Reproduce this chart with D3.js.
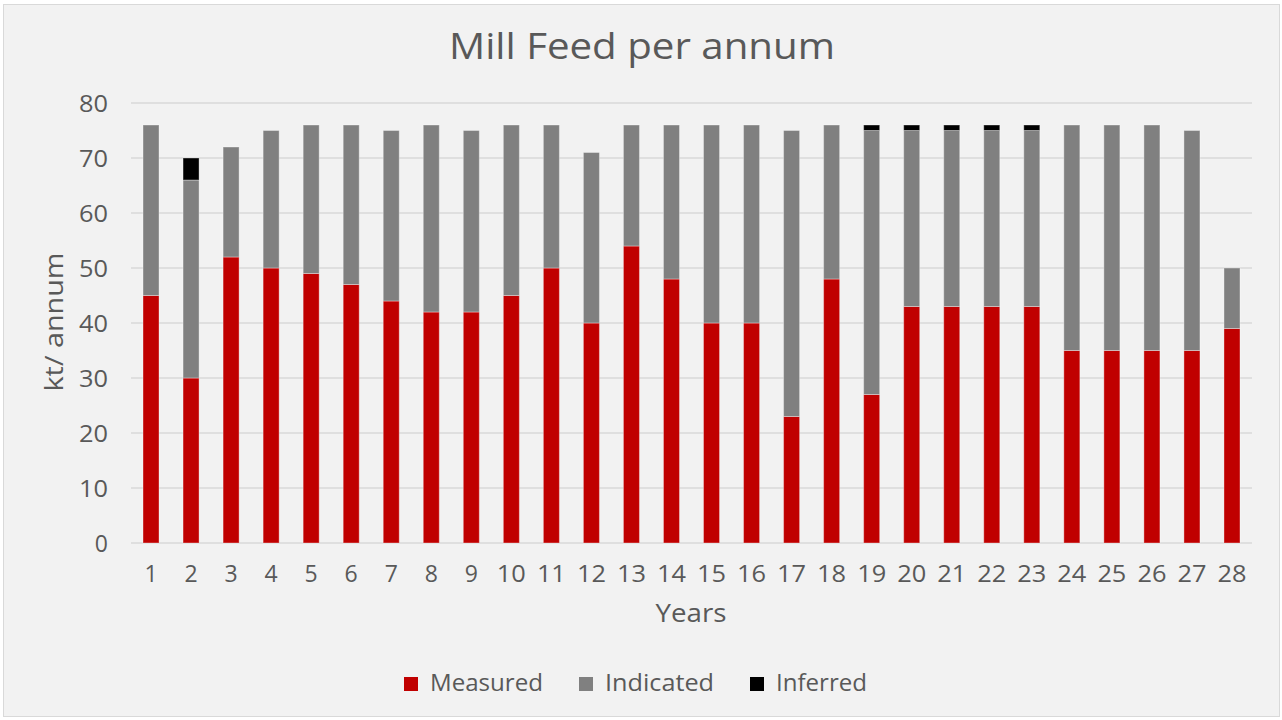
<!DOCTYPE html>
<html><head><meta charset="utf-8">
<script src="https://cdn.jsdelivr.net/npm/d3@7"></script>
<style>
html,body{margin:0;padding:0;background:#ffffff;}
svg{display:block;}
text{font-family:"Open Sans","Noto Sans",sans-serif;fill:#595959;}
</style></head>
<body>
<svg id="chart" width="1282" height="720"></svg>
<script>
const years = [1,2,3,4,5,6,7,8,9,10,11,12,13,14,15,16,17,18,19,20,21,22,23,24,25,26,27,28];
const measured  = [45,30,52,50,49,47,44,42,42,45,50,40,54,48,40,40,23,48,27,43,43,43,43,35,35,35,35,39];
const indicated = [31,36,20,25,27,29,31,34,33,31,26,31,22,28,36,36,52,28,48,32,32,32,32,41,41,41,40,11];
const inferred  = [0,4,0,0,0,0,0,0,0,0,0,0,0,0,0,0,0,0,1,1,1,1,1,0,0,0,0,0];
const seriesNames = ["Measured","Indicated","Inferred"];
const seriesColors = ["#c00000","#808080","#000000"];
const yTicks = [0,10,20,30,40,50,60,70,80];

const svg = d3.select("#chart");
svg.append("rect").attr("x",0).attr("y",0).attr("width",1282).attr("height",720).attr("fill","#ffffff");
svg.append("rect").attr("x",3.5).attr("y",4.5).attr("width",1276).attr("height",712)
  .attr("fill","#f2f2f2").attr("stroke","#d9d9d9").attr("stroke-width",1);

const x = d3.scaleBand().domain(years).range([131,1252]).paddingInner(0.6).paddingOuter(0.3);
const y = d3.scaleLinear().domain([0,80]).range([543,103]);

// gridlines
svg.append("g").selectAll("line").data(yTicks).join("line")
  .attr("x1",131).attr("x2",1252)
  .attr("y1",d=>y(d)).attr("y2",d=>y(d))
  .attr("stroke","#d9d9d9").attr("stroke-width",1.5);

// stacked data
const rows = years.map((yr,i)=>({year:yr, Measured:measured[i], Indicated:indicated[i], Inferred:inferred[i]}));
const stack = d3.stack().keys(seriesNames)(rows);
const color = d3.scaleOrdinal().domain(seriesNames).range(seriesColors);

svg.append("g").selectAll("g").data(stack).join("g")
  .attr("fill",d=>color(d.key))
  .selectAll("rect").data(d=>d.filter(p=>p[1]-p[0]>0)).join("rect")
  .attr("x",d=>x(d.data.year))
  .attr("width",x.bandwidth())
  .attr("y",d=>y(d[1]))
  .attr("height",d=>y(d[0])-y(d[1]))
  .attr("stroke","rgba(255,255,255,0.35)").attr("stroke-width",1);

// y axis labels
const yAxis = d3.axisLeft(y).tickValues(yTicks).tickSize(0).tickPadding(0);
const gy = svg.append("g").attr("transform","translate(108,0)").call(yAxis);
gy.select(".domain").remove();
gy.selectAll("text").attr("font-size",23).attr("fill","#595959")
  .style("font-family","'Open Sans',sans-serif").attr("dy","0.36em")
  .each(function(d){ if(String(d).length>1) d3.select(this).attr("textLength",29).attr("lengthAdjust","spacingAndGlyphs"); });

// x axis labels
const xAxis = d3.axisBottom(x).tickSize(0).tickPadding(0);
const gx = svg.append("g").attr("transform","translate(0,582)").call(xAxis);
gx.select(".domain").remove();
gx.selectAll("text").attr("font-size",23).attr("fill","#595959")
  .style("font-family","'Open Sans',sans-serif").attr("dy",0)
  .each(function(d){ if(String(d).length>1) d3.select(this).attr("textLength",29).attr("lengthAdjust","spacingAndGlyphs"); });

// title
svg.append("text").attr("x",642).attr("y",59).attr("text-anchor","middle")
  .attr("font-size",36).attr("textLength",386).attr("lengthAdjust","spacingAndGlyphs")
  .text("Mill Feed per annum");

// axis titles
svg.append("text").attr("x",691).attr("y",622).attr("text-anchor","middle")
  .attr("font-size",25).attr("textLength",71).attr("lengthAdjust","spacingAndGlyphs")
  .text("Years");
svg.append("text").attr("transform","translate(63,322) rotate(-90)").attr("text-anchor","middle")
  .attr("font-size",25).attr("textLength",139).attr("lengthAdjust","spacingAndGlyphs")
  .text("kt/ annum");

// legend
const legendX = [404,579,750];
const legendW = [113,109,91];
const lg = svg.append("g").selectAll("g").data(seriesNames).join("g")
  .attr("transform",(d,i)=>`translate(${legendX[i]},677)`);
lg.append("rect").attr("width",14).attr("height",14).attr("fill",(d,i)=>seriesColors[i]);
lg.append("text").attr("x",26).attr("y",14).attr("font-size",23)
  .attr("textLength",(d,i)=>legendW[i]).attr("lengthAdjust","spacingAndGlyphs")
  .text(d=>d);
</script>
</body></html>
